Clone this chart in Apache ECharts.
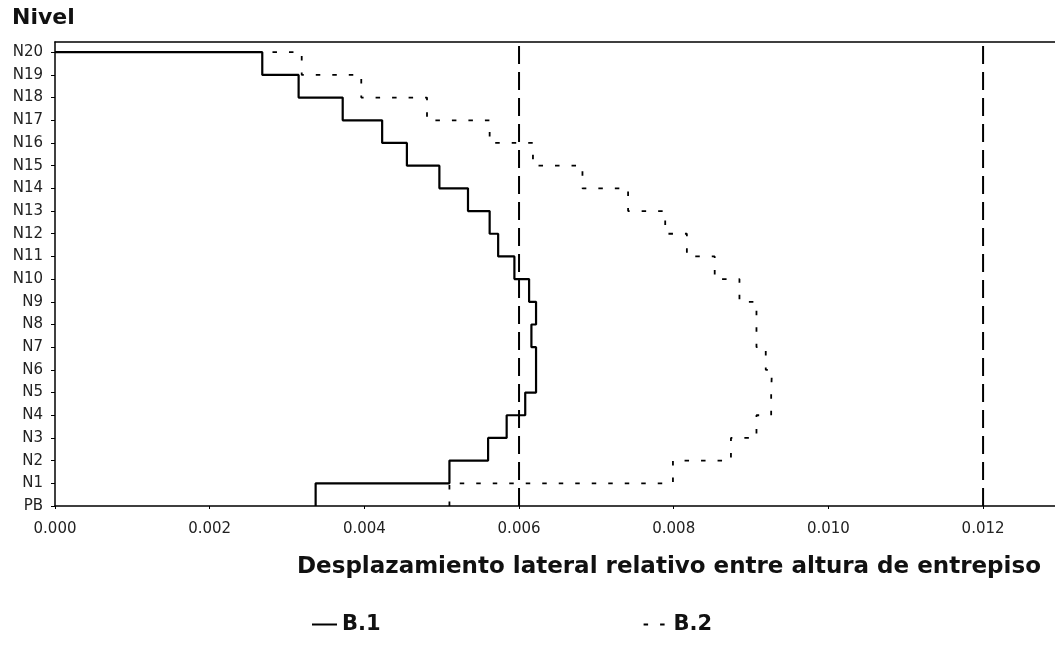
<!DOCTYPE html>
<html><head><meta charset="utf-8">
<script src="https://cdn.jsdelivr.net/npm/echarts@6/dist/echarts.min.js"></script>
<style>html,body{margin:0;padding:0;background:#fff}#c{width:1055px;height:659px}</style>
</head><body><div id="c"></div>
<script>
// Level names, bottom to top
const levels = ['PB','N1','N2','N3','N4','N5','N6','N7','N8','N9','N10',
  'N11','N12','N13','N14','N15','N16','N17','N18','N19','N20'];
// Inter-story drift, story 1 (PB-N1) ... story 20 (N19-N20)
const driftB1 = [0.00337, 0.00510, 0.00560, 0.00584, 0.00608, 0.00622, 0.00622, 0.00616, 0.00622, 0.00613,
  0.00594, 0.00573, 0.00562, 0.00534, 0.00497, 0.00455, 0.00423, 0.00372, 0.00315, 0.00268];
const driftB2 = [0.00510, 0.00799, 0.00874, 0.00907, 0.00926, 0.00927, 0.00919, 0.00907, 0.00907, 0.00885,
  0.00853, 0.00817, 0.00789, 0.00741, 0.00682, 0.00618, 0.00562, 0.00481, 0.00396, 0.00319];
// Drift limits (vertical dashed lines)
const limits = [0.006, 0.012];
const seriesNames = ['B.1', 'B.2'];
const xTitle = 'Desplazamiento lateral relativo entre altura de entrepiso';
const yTitle = 'Nivel';

const Y_MAX = 20.45;
const X_MAX = 0.01293;
function stepPoints(d) {
  const pts = [];
  d.forEach((v, i) => { pts.push([v, i]); pts.push([v, i + 1]); });
  pts.push([0, d.length]);
  return pts;
}

const FONT = 'DejaVu Sans';
const limitSeries = limits.map(x => ({
  name: 'lim' + x, type: 'line', data: [[x, 0], [x, Y_MAX]], symbol: 'none', z: 1,
  lineStyle: {color: '#000', width: 2, type: [18, 8]}, silent: true
}));

const chart = echarts.init(document.getElementById('c'), null, {renderer: 'canvas'});
chart.setOption({
  animation: false,
  backgroundColor: '#fff',
  title: [
    {text: yTitle, left: 7, top: 2,
     textStyle: {fontFamily: FONT, fontWeight: 'bold', fontSize: 22, color: '#111'}},
    {text: xTitle, left: 292, top: 551,
     textStyle: {fontFamily: FONT, fontWeight: 'bold', fontSize: 23, color: '#111'}}
  ],
  legend: {
    data: seriesNames, left: 306, top: 609, itemGap: 262, itemWidth: 25, itemHeight: 10,
    itemStyle: {opacity: 0},
    textStyle: {fontFamily: FONT, fontWeight: 'bold', fontSize: 21, color: '#111'}
  },
  grid: {left: 55, right: 0, top: 42, bottom: 153, show: false},
  xAxis: [{
    type: 'value', min: 0, max: X_MAX, interval: 0.002,
    axisLine: {lineStyle: {color: '#000', width: 1.5}},
    axisTick: {show: true, length: 3, lineStyle: {color: '#000'}},
    splitLine: {show: false},
    axisLabel: {showMaxLabel: false, margin: 16, fontFamily: FONT, fontSize: 15, color: '#222',
      formatter: v => v.toFixed(3)}
  }, {
    type: 'value', position: 'top', min: 0, max: X_MAX, interval: 0.002,
    axisLine: {show: true, lineStyle: {color: '#000', width: 1.5}},
    axisTick: {show: false}, axisLabel: {show: false}, splitLine: {show: false}
  }],
  yAxis: {
    type: 'value', min: 0, max: Y_MAX, interval: 1,
    axisLine: {show: true, lineStyle: {color: '#000', width: 1.5}},
    axisTick: {show: true, length: 4, lineStyle: {color: '#000'}},
    splitLine: {show: false},
    axisLabel: {showMaxLabel: false, margin: 12, fontFamily: FONT, fontSize: 15, color: '#222',
      formatter: v => Number.isInteger(v) && levels[v] !== undefined ? levels[v] : ''}
  },
  series: limitSeries.concat([
    {name: seriesNames[1], type: 'line', data: stepPoints(driftB2), symbol: 'none', z: 2,
     lineStyle: {color: '#000', width: 1.8, type: [4.5, 12]}, itemStyle: {color: '#000'}},
    {name: seriesNames[0], type: 'line', data: stepPoints(driftB1), symbol: 'none', z: 3,
     lineStyle: {color: '#000', width: 2.2, type: 'solid'}, itemStyle: {color: '#000'}}
  ])
});
</script></body></html>
